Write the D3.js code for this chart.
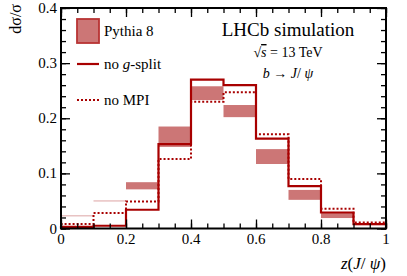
<!DOCTYPE html>
<html>
<head>
<meta charset="utf-8">
<script src="https://cdn.jsdelivr.net/npm/d3@7"></script>
<style>
body { margin: 0; background: #fff; }
svg text { font-family: "Liberation Serif", "Times New Roman", Times, serif; fill: #000; }
</style>
</head>
<body>
<svg id="chart" width="407" height="276"></svg>
<script>
// bin edges of z(J/psi)
var binEdges = [0, 0.1, 0.2, 0.3, 0.4, 0.5, 0.6, 0.7, 0.8, 0.9, 1.0];
// Pythia 8 band, low and high edge per bin
var pythiaLow  = [0.022, 0.049, 0.071, 0.148, 0.233, 0.202, 0.117, 0.052, 0.019, 0.006];
var pythiaHigh = [0.024, 0.051, 0.084, 0.185, 0.258, 0.224, 0.144, 0.070, 0.028, 0.010];
// no g-split
var noGsplit = [0.003, 0.005, 0.034, 0.153, 0.270, 0.260, 0.163, 0.077, 0.029, 0.008];
// no MPI
var noMPI = [0.008, 0.028, 0.049, 0.126, 0.230, 0.247, 0.171, 0.090, 0.036, 0.011];
var xTicks = [0, 0.2, 0.4, 0.6, 0.8, 1];
var yTicks = [0, 0.1, 0.2, 0.3, 0.4];

var W = 407, H = 276;
var margin = {left: 61, right: 21, top: 8, bottom: 47.5};
var red = "#a80000", band = "#cc7676";

var svg = d3.select("#chart");
var x = d3.scaleLinear().domain([0, 1]).range([margin.left, W - margin.right]);
var y = d3.scaleLinear().domain([0, 0.4]).range([H - margin.bottom, margin.top]);

// bands
var bins = d3.range(pythiaLow.length);
svg.append("g").selectAll("rect").data(bins).join("rect")
  .attr("x", function (i) { return x(binEdges[i]); })
  .attr("width", function (i) { return x(binEdges[i + 1]) - x(binEdges[i]); })
  .attr("y", function (i) { return y(pythiaHigh[i]); })
  .attr("height", function (i) { return Math.max(1, y(pythiaLow[i]) - y(pythiaHigh[i])); })
  .attr("fill", band)
  .attr("opacity", function (i) { return (pythiaHigh[i] - pythiaLow[i]) < 0.005 ? 0.6 : 1; });

function histPath(vals) {
  var pts = [[binEdges[0], 0]];
  vals.forEach(function (v, i) {
    pts.push([binEdges[i], v]);
    pts.push([binEdges[i + 1], v]);
  });
  pts.push([binEdges[binEdges.length - 1], 0]);
  return d3.line().x(function (d) { return x(d[0]); }).y(function (d) { return y(d[1]); })(pts);
}

svg.append("path").attr("d", histPath(noMPI))
  .attr("fill", "none").attr("stroke", red).attr("stroke-width", 2)
  .attr("stroke-dasharray", "2,2");
svg.append("path").attr("d", histPath(noGsplit))
  .attr("fill", "none").attr("stroke", red).attr("stroke-width", 2.2);

// axes, ticks inside on all four sides
var xMinor = d3.range(0, 1.0001, 0.05);
var yMinor = d3.range(0, 0.4001, 0.02);
svg.append("g").attr("transform", "translate(0," + y(0) + ")")
  .call(d3.axisTop(x).tickValues(xMinor).tickSize(5).tickFormat(""));
svg.append("g").attr("transform", "translate(0," + y(0) + ")")
  .call(d3.axisTop(x).tickValues(xTicks).tickSize(9).tickFormat(""));
svg.append("g").attr("transform", "translate(0," + y(0.4) + ")")
  .call(d3.axisBottom(x).tickValues(xMinor).tickSize(5).tickFormat(""));
svg.append("g").attr("transform", "translate(0," + y(0.4) + ")")
  .call(d3.axisBottom(x).tickValues(xTicks).tickSize(9).tickFormat(""));
svg.append("g").attr("transform", "translate(" + x(0) + ",0)")
  .call(d3.axisRight(y).tickValues(yMinor).tickSize(5).tickFormat(""));
svg.append("g").attr("transform", "translate(" + x(0) + ",0)")
  .call(d3.axisRight(y).tickValues(yTicks).tickSize(9).tickFormat(""));
svg.append("g").attr("transform", "translate(" + x(1) + ",0)")
  .call(d3.axisLeft(y).tickValues(yMinor).tickSize(5).tickFormat(""));
svg.append("g").attr("transform", "translate(" + x(1) + ",0)")
  .call(d3.axisLeft(y).tickValues(yTicks).tickSize(9).tickFormat(""));
svg.selectAll(".domain").remove();
svg.selectAll(".tick line").attr("stroke", "#000").attr("stroke-width", 1.3);

svg.append("rect")
  .attr("x", x(0)).attr("y", y(0.4))
  .attr("width", x(1) - x(0)).attr("height", y(0) - y(0.4))
  .attr("fill", "none").attr("stroke", "#000").attr("stroke-width", 2);

// tick labels
svg.append("g").selectAll("text").data(xTicks).join("text")
  .attr("x", function (d) { return x(d); }).attr("y", 244)
  .attr("text-anchor", "middle").attr("font-size", 15)
  .text(function (d) { return d3.format("~g")(d); });
svg.append("g").selectAll("text").data(yTicks).join("text")
  .attr("x", 57).attr("y", function (d) { return y(d) + 5; })
  .attr("text-anchor", "end").attr("font-size", 15)
  .text(function (d) { return d3.format("~g")(d); });

// axis titles
svg.append("text").attr("transform", "translate(21,4) rotate(-90)")
  .attr("text-anchor", "end").attr("font-size", 16).text("dσ/σ");
var xt = svg.append("text").attr("x", x(1)).attr("y", 269)
  .attr("text-anchor", "end").attr("font-size", 17);
xt.append("tspan").attr("font-style", "italic").text("z");
xt.append("tspan").text("(");
xt.append("tspan").attr("font-style", "italic").text("J");
xt.append("tspan").text("/ ");
xt.append("tspan").attr("font-style", "italic").text("ψ");
xt.append("tspan").text(")");

// legend
svg.append("rect").attr("x", 77).attr("y", 19).attr("width", 22).attr("height", 24)
  .attr("fill", band).attr("stroke", "#b83434").attr("stroke-width", 1.8);
svg.append("text").attr("x", 104).attr("y", 36).attr("font-size", 15).text("Pythia 8");
svg.append("line").attr("x1", 77).attr("x2", 99).attr("y1", 64).attr("y2", 64)
  .attr("stroke", red).attr("stroke-width", 2.2);
var lg = svg.append("text").attr("x", 104).attr("y", 69).attr("font-size", 15);
lg.append("tspan").text("no ");
lg.append("tspan").attr("font-style", "italic").text("g");
lg.append("tspan").text("-split");
svg.append("line").attr("x1", 77).attr("x2", 99).attr("y1", 100).attr("y2", 100)
  .attr("stroke", red).attr("stroke-width", 2).attr("stroke-dasharray", "2,2");
svg.append("text").attr("x", 104).attr("y", 105).attr("font-size", 15).text("no MPI");

// labels top right
svg.append("text").attr("x", 288).attr("y", 36).attr("text-anchor", "middle")
  .attr("font-size", 19).text("LHCb simulation");
var rs = svg.append("text").attr("x", 288).attr("y", 57).attr("text-anchor", "middle")
  .attr("font-size", 14);
rs.append("tspan").text("√");
rs.append("tspan").attr("font-style", "italic").attr("text-decoration", "overline").text("s");
rs.append("tspan").text(" = 13 TeV");
var dc = svg.append("text").attr("x", 288).attr("y", 78).attr("text-anchor", "middle")
  .attr("font-size", 14);
dc.append("tspan").attr("font-style", "italic").text("b");
dc.append("tspan").text("  → ");
dc.append("tspan").attr("font-style", "italic").text("J");
dc.append("tspan").text("/ ");
dc.append("tspan").attr("font-style", "italic").text("ψ");
</script>
</body>
</html>
